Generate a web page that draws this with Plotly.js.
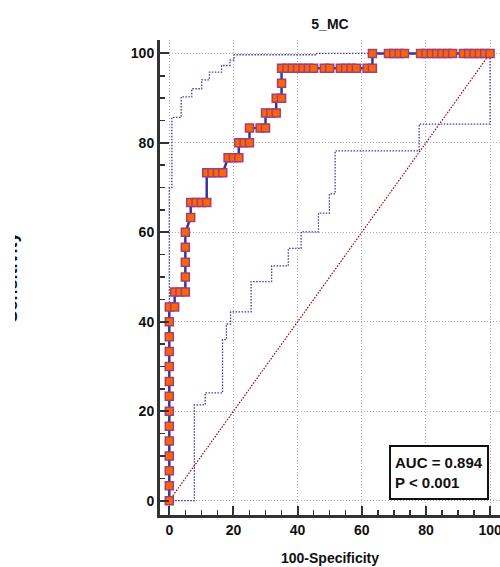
<!DOCTYPE html>
<html>
<head>
<meta charset="utf-8">
<script src="https://cdn.plot.ly/plotly-3.0.1.min.js"></script>
<style>html,body{margin:0;padding:0;background:#fff;}#chart{width:500px;height:567px;}</style>
</head>
<body>
<div id="chart"></div>
<script>
// ROC curve points (100-Specificity, Sensitivity)
const rocX = [0,0,0,0,0,0,0,0,0,0,0,0,0,0,
  1.67, 1.67,3.33,5, 5,5,5,5, 6.67,
  6.67,8.33,10,11.67, 11.67,13.33,15,16.67, 18.33,20,21.67, 21.67,23.33,25,
  25, 28.33,30, 30,31.67,33.33, 33.33,35, 35,
  35,36.67,38.33,40,41.67,43.33,45, 48.33,50, 53.33,55,56.67,58.33, 61.67,63.33,
  63.33, 68.33,70,71.67,73.33, 78.33,80,81.67,83.33,85,86.67,88.33, 91.67,93.33,95,96.67,98.33,100];
const rocY = [0,3.33,6.67,10,13.33,16.67,20,23.33,26.67,30,33.33,36.67,40,43.33,
  43.33, 46.67,46.67,46.67, 50,53.33,56.67,60, 63.33,
  66.67,66.67,66.67,66.67, 73.33,73.33,73.33,73.33, 76.67,76.67,76.67, 80,80,80,
  83.33, 83.33,83.33, 86.67,86.67,86.67, 90,90, 93.33,
  96.67,96.67,96.67,96.67,96.67,96.67,96.67, 96.67,96.67, 96.67,96.67,96.67,96.67, 96.67,96.67,
  100, 100,100,100,100, 100,100,100,100,100,100,100, 100,100,100,100,100,100];

// Upper confidence band
const upX = [0,0,0.8,0.8,3.7,3.7,7,7,10.1,10.1,12.5,12.5,16.3,16.3,18.9,18.9,20.2,20.2,46,46,100];
const upY = [0,70,70,85.7,85.7,90.3,90.3,92.1,92.1,94.1,94.1,95.8,95.8,97.3,97.3,98.5,98.5,99.7,99.7,100,100];

// Lower confidence band
const loX = [0,7.8,7.8,11.2,11.2,16.6,16.6,17.8,17.8,19.1,19.1,25.5,25.5,31.9,31.9,37.1,37.1,41.1,41.1,46.5,46.5,49.9,49.9,51.7,51.7,77.9,77.9,100,100];
const loY = [0,0,21.4,21.4,24.1,24.1,36,36,39.5,39.5,42.2,42.2,49,49,52.5,52.5,56.4,56.4,60.1,60.1,64.3,64.3,68.6,68.6,78.2,78.2,84.2,84.2,100];

// Reference diagonal
const diagX = [0,100];
const diagY = [0,100];

const tickVals = [0,20,40,60,80,100];
const tickText = ['0','20','40','60','80','100'];
const minorVals = [5,10,15,25,30,35,45,50,55,65,70,75,85,90,95];

const FONT = 'Liberation Sans, Arial, sans-serif';

const traces = [
  {x: diagX, y: diagY, mode:'lines', line:{color:'#a00000', width:1.2, dash:'1.5px,1.5px'}, hoverinfo:'skip'},
  {x: upX, y: upY, mode:'lines', line:{color:'#3c3caa', width:1.3, dash:'1.5px,1.5px'}, hoverinfo:'skip'},
  {x: loX, y: loY, mode:'lines', line:{color:'#3c3caa', width:1.3, dash:'1.5px,1.5px'}, hoverinfo:'skip'},
  {x: rocX, y: rocY, mode:'lines+markers',
   line:{color:'#3a34a0', width:2.5},
   marker:{symbol:'square', size:8, color:'#ff6400', line:{color:'#a0407a', width:1.5}}}
];

const axisCommon = {
  showline:true, linecolor:'#333333', linewidth:3, mirror:false,
  zeroline:false, showgrid:true, gridcolor:'#a8a8a8', gridwidth:1, griddash:'1px,2px',
  ticks:'inside', ticklen:9, tickwidth:2, tickcolor:'#333333',
  tickvals: tickVals, ticktext: tickText, ticklabeloverflow:'allow',
  tickfont:{family:FONT, size:14, color:'#111', weight:'bold'},
  minor:{tickvals:minorVals, ticks:'inside', ticklen:5, tickwidth:1.5, tickcolor:'#333333', showgrid:false}
};

const layout = {
  width:500, height:567,
  margin:{l:160, r:0, t:40, b:52, pad:0},
  paper_bgcolor:'#fff', plot_bgcolor:'#fff',
  showlegend:false,
  title:{text:'5_MC', font:{family:FONT, size:14, color:'#111', weight:'bold'}, x:0.66, xanchor:'center', y:0.958, yanchor:'middle', xref:'container', yref:'container'},
  xaxis: Object.assign({}, axisCommon, {range:[-2.9,103.1],
    title:{text:'100-Specificity', font:{family:FONT, size:14, color:'#111', weight:'bold'}, standoff:17}}),
  yaxis: Object.assign({}, axisCommon, {range:[-3.2,103]}),
  annotations:[
    {xref:'paper', yref:'paper', x:(22-160)/340, y:0.5, xanchor:'right', yanchor:'middle',
     text:'Sensitivity', textangle:-90, showarrow:false,
     font:{family:FONT, size:18, color:'#111', weight:'bold'}},
    {xref:'paper', yref:'paper', x:(0-160)/340, y:0.5, xanchor:'left', yanchor:'middle',
     text:'\u00a0', showarrow:false, bgcolor:'#ffffff', width:15, height:160, borderpad:0, borderwidth:0},
    {xref:'x', yref:'y', x:99.6, y:0.1, xanchor:'right', yanchor:'bottom',
     text:'AUC = 0.894<br>P < 0.001', align:'left', showarrow:false,
     bgcolor:'#ffffff', bordercolor:'#111111', borderwidth:2, borderpad:4, width:88, height:43,
     font:{family:FONT, size:15, color:'#111', weight:'bold'}}
  ]
};

Plotly.newPlot('chart', traces, layout, {displayModeBar:false, staticPlot:true});
</script>
</body>
</html>
